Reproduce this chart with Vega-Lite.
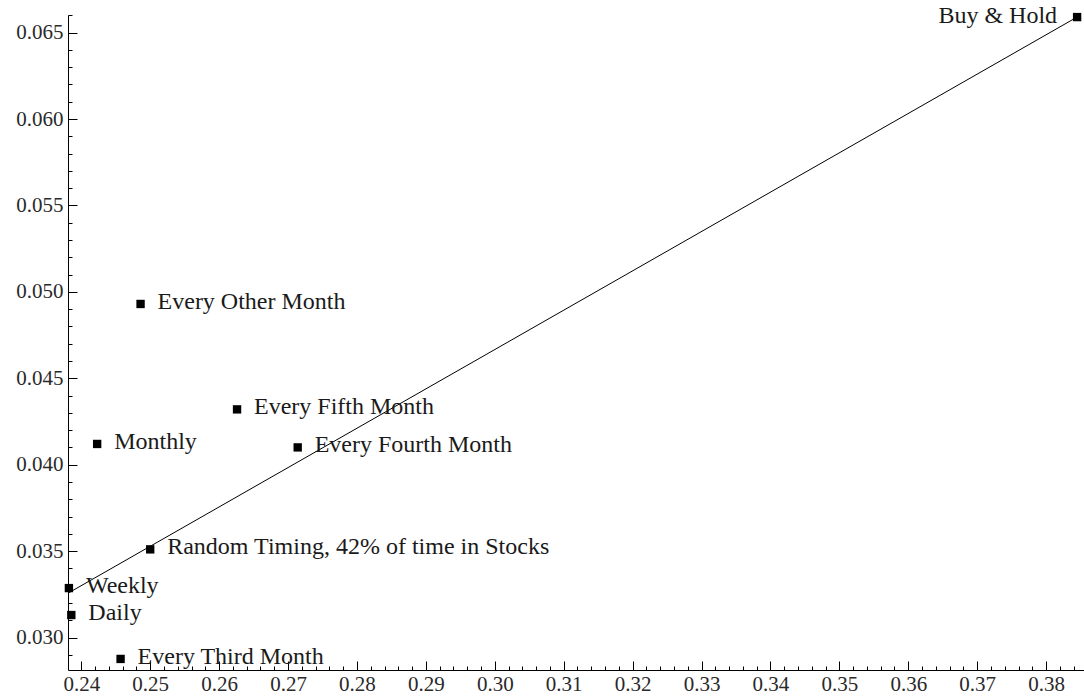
{
  "$schema": "https://vega.github.io/schema/vega-lite/v6.json",
  "width": 1016,
  "height": 655,
  "autosize": {"type": "none"},
  "padding": {"left": 68, "top": 15, "right": 0, "bottom": 28},
  "background": "white",
  "config": {
    "view": {"stroke": null},
    "axis": {
      "grid": false,
      "domainColor": "#000000",
      "tickColor": "#000000",
      "labelFont": "Liberation Serif",
      "labelFontSize": 21,
      "labelColor": "#2a2a2a"
    }
  },
  "datasets": {
    "pts": [
      {"name": "Buy & Hold", "x": 0.3845, "y": 0.0659},
      {"name": "Every Other Month", "x": 0.2486, "y": 0.0493},
      {"name": "Every Fifth Month", "x": 0.2626, "y": 0.0432},
      {"name": "Monthly", "x": 0.2423, "y": 0.0412},
      {"name": "Every Fourth Month", "x": 0.2714, "y": 0.041},
      {"name": "Random Timing, 42% of time in Stocks", "x": 0.25, "y": 0.0351},
      {"name": "Weekly", "x": 0.2382, "y": 0.03286},
      {"name": "Daily", "x": 0.23855, "y": 0.0313},
      {"name": "Every Third Month", "x": 0.2457, "y": 0.02876}
    ],
    "fit": [
      {"x": 0.2381, "y": 0.03257},
      {"x": 0.3845, "y": 0.0659}
    ]
  },
  "layer": [
    {
      "data": {"name": "fit"},
      "mark": {"type": "line", "color": "#000000", "strokeWidth": 1},
      "encoding": {
        "x": {
          "field": "x", "type": "quantitative",
          "scale": {"domain": [0.23807, 0.3855], "nice": false, "zero": false},
          "axis": {
            "orient": "bottom", "title": null, "labels": false, "domain": false, "tickSize": -4, "offset": 0,
            "values": [0.240,0.242,0.244,0.246,0.248,0.250,0.252,0.254,0.256,0.258,0.260,0.262,0.264,0.266,0.268,0.270,0.272,0.274,0.276,0.278,0.280,0.282,0.284,0.286,0.288,0.290,0.292,0.294,0.296,0.298,0.300,0.302,0.304,0.306,0.308,0.310,0.312,0.314,0.316,0.318,0.320,0.322,0.324,0.326,0.328,0.330,0.332,0.334,0.336,0.338,0.340,0.342,0.344,0.346,0.348,0.350,0.352,0.354,0.356,0.358,0.360,0.362,0.364,0.366,0.368,0.370,0.372,0.374,0.376,0.378,0.380,0.382,0.384]
          }
        },
        "y": {
          "field": "y", "type": "quantitative",
          "scale": {"domain": [0.02812, 0.06602], "nice": false, "zero": false},
          "axis": {
            "orient": "left", "title": null, "labels": false, "domain": false, "tickSize": -4, "offset": 0,
            "values": [0.029,0.030,0.031,0.032,0.033,0.034,0.035,0.036,0.037,0.038,0.039,0.040,0.041,0.042,0.043,0.044,0.045,0.046,0.047,0.048,0.049,0.050,0.051,0.052,0.053,0.054,0.055,0.056,0.057,0.058,0.059,0.060,0.061,0.062,0.063,0.064,0.065,0.066]
          }
        }
      }
    },
    {
      "data": {"name": "pts"},
      "mark": {"type": "square", "filled": true, "color": "#000000", "size": 70, "opacity": 1},
      "encoding": {
        "x": {
          "field": "x", "type": "quantitative",
          "axis": {
            "orient": "bottom", "title": null, "format": ".2f", "tickSize": -9, "labelPadding": 12, "offset": 0,
            "values": [0.24,0.25,0.26,0.27,0.28,0.29,0.30,0.31,0.32,0.33,0.34,0.35,0.36,0.37,0.38]
          }
        },
        "y": {
          "field": "y", "type": "quantitative",
          "axis": {
            "orient": "left", "title": null, "format": ".3f", "tickSize": -9, "labelPadding": 14, "offset": 0,
            "values": [0.030,0.035,0.040,0.045,0.050,0.055,0.060,0.065]
          }
        }
      }
    },
    {
      "data": {"name": "pts"},
      "transform": [{"filter": "datum.name !== 'Buy & Hold'"}],
      "mark": {"type": "text", "align": "left", "baseline": "middle", "dx": 17, "dy": -2, "font": "Liberation Serif", "fontSize": 24, "color": "#1a1a1a"},
      "encoding": {
        "x": {"field": "x", "type": "quantitative", "axis": null},
        "y": {"field": "y", "type": "quantitative", "axis": null},
        "text": {"field": "name", "type": "nominal"}
      }
    },
    {
      "data": {"name": "pts"},
      "transform": [{"filter": "datum.name === 'Buy & Hold'"}],
      "mark": {"type": "text", "align": "right", "baseline": "middle", "dx": -20, "dy": -1, "font": "Liberation Serif", "fontSize": 24, "color": "#1a1a1a"},
      "encoding": {
        "x": {"field": "x", "type": "quantitative", "axis": null},
        "y": {"field": "y", "type": "quantitative", "axis": null},
        "text": {"field": "name", "type": "nominal"}
      }
    }
  ],
  "resolve": {"axis": {"x": "independent", "y": "independent"}}
}
